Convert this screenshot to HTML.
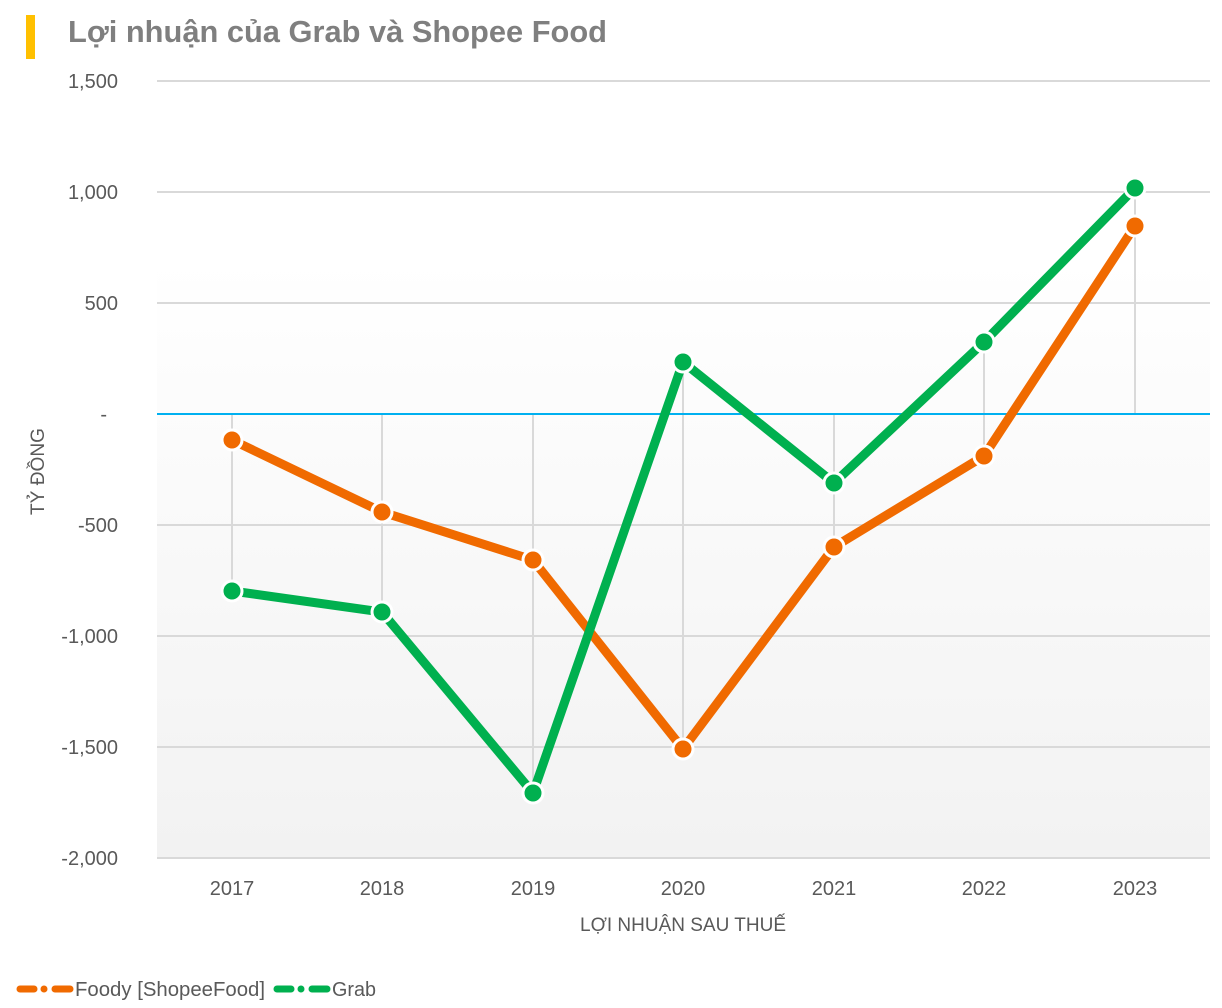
<!DOCTYPE html>
<html><head><meta charset="utf-8"><style>
html,body{margin:0;padding:0;background:#fff;}
svg{display:block;}
text{font-family:"Liberation Sans",sans-serif;}
</style></head><body>
<svg width="1222" height="1008" viewBox="0 0 1222 1008" xmlns="http://www.w3.org/2000/svg">
<defs>
<linearGradient id="bg" x1="0" y1="0" x2="0" y2="1">
<stop offset="0" stop-color="#ffffff"/>
<stop offset="1" stop-color="#f2f2f2"/>
</linearGradient>
</defs>
<rect x="0" y="0" width="1222" height="1008" fill="#fff"/>
<rect x="26" y="15" width="9" height="44" fill="#ffc000"/>
<text x="68" y="42" font-size="31" font-weight="bold" fill="#7f7f7f" textLength="539" lengthAdjust="spacingAndGlyphs">Lợi nhuận của Grab và Shopee Food</text>

<rect x="157" y="260" width="1053" height="598" fill="url(#bg)"/>

<g stroke="#d9d9d9" stroke-width="2">
<line x1="157" y1="81" x2="1210" y2="81"/>
<line x1="157" y1="192" x2="1210" y2="192"/>
<line x1="157" y1="303" x2="1210" y2="303"/>
<line x1="157" y1="525" x2="1210" y2="525"/>
<line x1="157" y1="636" x2="1210" y2="636"/>
<line x1="157" y1="747" x2="1210" y2="747"/>
<line x1="157" y1="858" x2="1210" y2="858"/>
<line x1="232" y1="414" x2="232" y2="591"/>
<line x1="382" y1="414" x2="382" y2="612"/>
<line x1="533" y1="414" x2="533" y2="793"/>
<line x1="683" y1="362" x2="683" y2="749"/>
<line x1="834" y1="414" x2="834" y2="547"/>
<line x1="984" y1="342" x2="984" y2="456"/>
<line x1="1135" y1="188" x2="1135" y2="414"/>
</g>
<line x1="157" y1="414" x2="1210" y2="414" stroke="#00b0f0" stroke-width="2"/>

<g font-size="20" fill="#595959" text-anchor="end">
<text x="118" y="88">1,500</text>
<text x="118" y="199">1,000</text>
<text x="118" y="310">500</text>
<text x="107" y="421">-</text>
<text x="118" y="532">-500</text>
<text x="118" y="643">-1,000</text>
<text x="118" y="754">-1,500</text>
<text x="118" y="865">-2,000</text>
</g>
<g font-size="20" fill="#595959" text-anchor="middle">
<text x="232" y="895">2017</text>
<text x="382" y="895">2018</text>
<text x="533" y="895">2019</text>
<text x="683" y="895">2020</text>
<text x="834" y="895">2021</text>
<text x="984" y="895">2022</text>
<text x="1135" y="895">2023</text>
</g>
<text x="580" y="931" font-size="19" fill="#595959" textLength="206" lengthAdjust="spacingAndGlyphs">LỢI NHUẬN SAU THUẾ</text>
<text transform="translate(44,515) rotate(-90)" font-size="19" fill="#595959" textLength="87" lengthAdjust="spacingAndGlyphs">TỶ ĐỒNG</text>

<g fill="none" stroke-width="9" stroke-linejoin="round" stroke-linecap="round">
<polyline stroke="#f06a00" points="232,440 382,512 533,560 683,749 834,547 984,456 1135,226"/>
</g>
<g fill="#f06a00" stroke="#fff" stroke-width="3">
<circle cx="232" cy="440" r="10"/>
<circle cx="382" cy="512" r="10"/>
<circle cx="533" cy="560" r="10"/>
<circle cx="683" cy="749" r="10"/>
<circle cx="834" cy="547" r="10"/>
<circle cx="984" cy="456" r="10"/>
<circle cx="1135" cy="226" r="10"/>
</g>
<g fill="none" stroke-width="9" stroke-linejoin="round" stroke-linecap="round">
<polyline stroke="#00b04f" points="232,591 382,612 533,793 683,362 834,483 984,342 1135,188"/>
</g>
<g fill="#00b04f" stroke="#fff" stroke-width="3">
<circle cx="232" cy="591" r="10"/>
<circle cx="382" cy="612" r="10"/>
<circle cx="533" cy="793" r="10"/>
<circle cx="683" cy="362" r="10"/>
<circle cx="834" cy="483" r="10"/>
<circle cx="984" cy="342" r="10"/>
<circle cx="1135" cy="188" r="10"/>
</g>

<g stroke-width="7" stroke-linecap="round">
<line x1="20" y1="989" x2="34" y2="989" stroke="#f06a00"/>
<line x1="55" y1="989" x2="70" y2="989" stroke="#f06a00"/>
<line x1="277" y1="989" x2="291" y2="989" stroke="#00b04f"/>
<line x1="312" y1="989" x2="327" y2="989" stroke="#00b04f"/>
</g>
<circle cx="44" cy="989" r="3.5" fill="#f06a00"/>
<circle cx="301" cy="989" r="3.5" fill="#00b04f"/>
<text x="75" y="996" font-size="20" fill="#595959" textLength="190" lengthAdjust="spacingAndGlyphs">Foody [ShopeeFood]</text>
<text x="332" y="996" font-size="20" fill="#595959" textLength="44" lengthAdjust="spacingAndGlyphs">Grab</text>
</svg>
</body></html>
